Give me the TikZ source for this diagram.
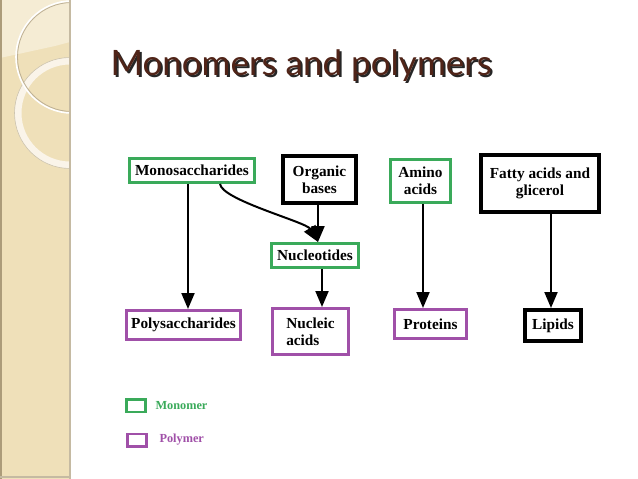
\documentclass[tikz,border=0pt]{standalone}
\usepackage{fontspec}
\setmainfont{Liberation Serif}
\newfontfamily\titlefont{Lato}
\usepackage{tikz}
\usetikzlibrary{positioning,arrows.meta,calc}
\definecolor{MonoGreen}{RGB}{58, 170, 90}
\definecolor{PolyPurple}{RGB}{160, 80, 168}
\definecolor{TitleBrown}{RGB}{80, 36, 24}
\definecolor{StripTan}{RGB}{239, 224, 185}
\definecolor{StripLight}{RGB}{245, 236, 212}
\definecolor{StripEdge}{RGB}{172, 156, 122}

\begin{document}
\begin{tikzpicture}[x=1pt, y=-1pt,
    box/.style={rectangle, draw, fill=white, inner sep=2pt, align=center, font=\fontsize{15.3}{17}\selectfont\bfseries},
    mono/.style={box, draw=MonoGreen, line width=3pt},
    poly/.style={box, draw=PolyPurple, line width=3pt},
    plain/.style={box, draw=black, line width=4pt},
    key/.style={rectangle, draw, line width=2.5pt, minimum width=19pt, minimum height=12.5pt},
    keytext/.style={anchor=west, font=\fontsize{12.3}{14}\selectfont\bfseries},
    arr/.style={-{Triangle[length=16pt, width=13pt]}, line width=2pt}
]
    \useasboundingbox (0, 0) rectangle (638, 479);

    % Side strip
    \fill[StripTan] (0, 0) rectangle (70, 479);
    \fill[StripLight] (0, 0) -- (70, 0) -- (70, 42) -- (55, 46) -- (0, 58) -- cycle;
    \begin{scope}
        \clip (0, 0) rectangle (70, 479);
        \draw[white!85!StripTan, line width=7pt, opacity=0.8] (70, 113) circle (52);
        \draw[StripEdge!60, line width=0.6pt] (70, 113) circle (55.5);
        \draw[white, line width=1.6pt] (72, 57) circle (56);
        \draw[StripEdge!80, line width=0.8pt] (72, 57) circle (54.5);
    \end{scope}
    \draw[StripEdge, line width=1.5pt] (1, 0) -- (1, 479);
    \draw[StripEdge!70, line width=1.5pt] (70, 0) -- (70, 479);
    \draw[StripEdge!70, line width=1.5pt] (0, 477) -- (70, 477);

    % Title (with its shadow)
    \node[anchor=base west, font=\titlefont\fontsize{35}{40}\selectfont] (title) at (107, 75)
        {\rlap{\raisebox{-2pt}{\hspace{2pt}\color{black!85}Monomers and polymers}}\color{TitleBrown}Monomers and polymers};

    % Top row
    \node[mono, minimum width=125, minimum height=24] (monos) at (192, 170.5) {Monosaccharides};
    \node[plain, minimum width=73, minimum height=47] (organic) at (319.5, 179.5) {Organic\\bases};
    \node[mono, minimum width=60, minimum height=43] (amino) at (420.5, 181) {Amino\\acids};
    \node[plain, minimum width=118, minimum height=57] (fatty) at (540, 183.5) {Fatty acids and\\glicerol};

    % Middle
    \node[mono, minimum width=87, minimum height=24] (nucleo) at (315, 255.5) {Nucleotides};

    % Bottom row
    \node[poly, minimum width=114, minimum height=29] (polys) at (183.5, 325) {Polysaccharides};
    \node[poly, minimum width=76, minimum height=46, align=left] (nucleic) at (310.5, 331.5) {Nucleic\\acids};
    \node[poly, minimum width=72, minimum height=29] (prot) at (430.5, 324) {Proteins};
    \node[plain, minimum width=56, minimum height=31] (lipids) at (553, 325.5) {Lipids};

    % Arrows
    \draw[arr] ([xshift=-4]monos.south) -- ([xshift=-4]monos.south |- polys.north);
    \draw[arr] ([xshift=28]monos.south) .. controls +(2, 16) and +(-12, -20) .. ([xshift=3]nucleo.north);
    \draw[arr] ([xshift=-1.5]organic.south) -- ([xshift=-1.5]organic.south |- nucleo.north);
    \draw[arr] ([xshift=7]nucleo.south) -- ([xshift=7]nucleo.south |- nucleic.north);
    \draw[arr] ([xshift=2.5]amino.south) -- ([xshift=2.5]amino.south |- prot.north);
    \draw[arr] ([xshift=11]fatty.south) -- ([xshift=11]fatty.south |- lipids.north);

    % Legend
    \node[key, draw=MonoGreen] (keymono) at (136, 405.5) {};
    \node[keytext, text=MonoGreen] (keymonotext) at (152, 406) {Monomer};
    \node[key, draw=PolyPurple] (keypoly) at (137, 440) {};
    \node[keytext, text=PolyPurple] (keypolytext) at (156, 440) {Polymer};
\end{tikzpicture}
\end{document}
